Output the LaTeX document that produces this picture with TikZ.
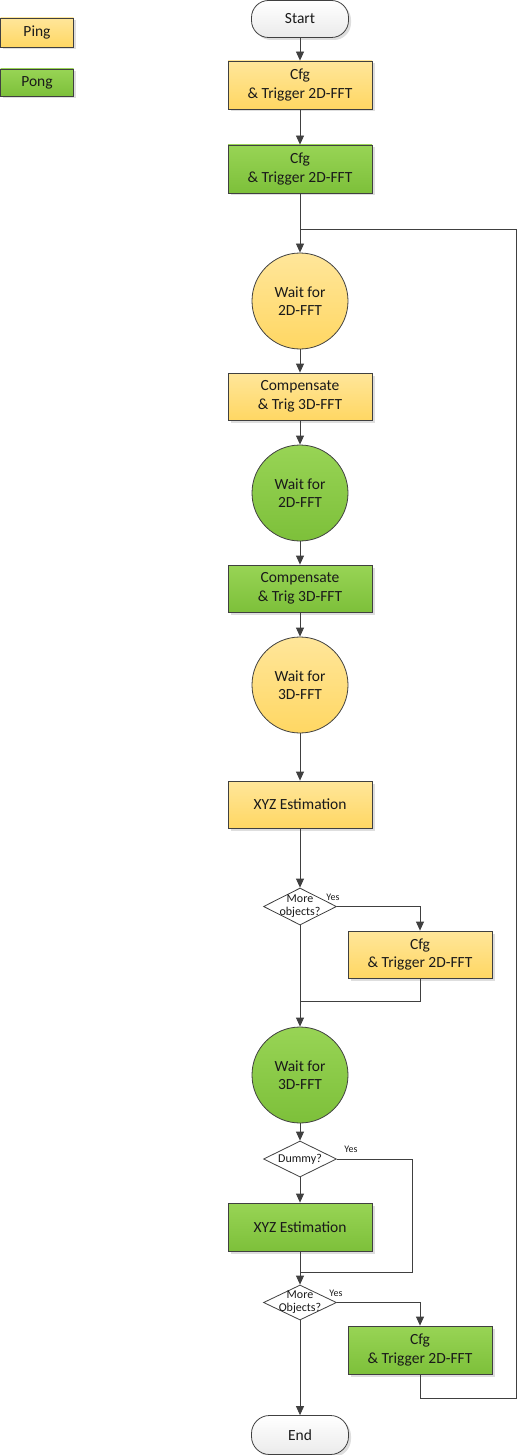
\documentclass[tikz,border=0pt]{standalone}
\usepackage{fontspec}
\setmainfont{Carlito}
\usetikzlibrary{shapes.geometric,arrows.meta,shadows}
\definecolor{lc}{HTML}{404040}
\definecolor{pingT}{HTML}{FFE69A}
\definecolor{pingB}{HTML}{FFD763}
\definecolor{pongT}{HTML}{98D455}
\definecolor{pongB}{HTML}{7DC03A}
\definecolor{txt}{HTML}{1A1A1A}
\begin{document}
\begin{tikzpicture}[x=1pt,y=-1pt,
  shad/.style={drop shadow={shadow xshift=2.5pt,shadow yshift=-2.5pt,fill=black!13,opacity=1}},
  base/.style={draw=lc,line width=0.8pt,inner sep=0pt,text=txt,align=center,
    font=\fontsize{15.5}{18.5}\selectfont},
  pingbox/.style={base,shad,rectangle,top color=pingT,bottom color=pingB,minimum width=144pt,minimum height=48pt},
  pongbox/.style={base,shad,rectangle,top color=pongT,bottom color=pongB,minimum width=144pt,minimum height=48pt},
  pingcirc/.style={base,circle,top color=pingT,bottom color=pingB,minimum size=96pt},
  pongcirc/.style={base,circle,top color=pongT,bottom color=pongB,minimum size=96pt},
  term/.style={base,shad,rectangle,rounded corners=17pt,top color=white,bottom color=black!8,minimum width=97pt,minimum height=37pt},
  dia/.style={draw=lc,line width=0.8pt,diamond,fill=white,inner sep=0pt,minimum width=73pt,minimum height=37pt},
  diatext/.style={text=txt,align=center,inner sep=0pt,font=\fontsize{12}{13.5}\selectfont},
  yes/.style={text=txt,inner sep=0pt,font=\fontsize{10}{12}\selectfont},
  ln/.style={draw=lc,line width=0.8pt},
  arr/.style={ln,-{Triangle[length=9pt,width=8pt]}}
]
\useasboundingbox (0,0) rectangle (518,1455);

% legend
\node[pingbox,minimum width=73pt,minimum height=29pt] (lping) at (37,32.5) {Ping};
\node[pongbox,minimum width=73pt,minimum height=27pt] (lpong) at (37,82.5) {Pong};

% main flow
\node[term] (start) at (300,19) {Start};
\node[pingbox] (b1) at (300,85) {Cfg\\ \& Trigger 2D-FFT};
\node[pongbox] (b2) at (300,169) {Cfg\\ \& Trigger 2D-FFT};
\node[pingcirc] (c1) at (300,301) {Wait for\\2D-FFT};
\node[pingbox,minimum height=47pt] (comp1) at (300,396.5) {Compensate\\\& Trig 3D-FFT};
\node[pongcirc] (c2) at (300,493) {Wait for\\2D-FFT};
\node[pongbox,minimum height=47pt] (comp2) at (300,588.5) {Compensate\\\& Trig 3D-FFT};
\node[pingcirc] (c3) at (300,685) {Wait for\\3D-FFT};
\node[pingbox,minimum height=47pt] (xyz1) at (300,804.5) {XYZ Estimation};
\node[dia] (d1) at (300,906.5) {};
\node[diatext] (d1t) at (300,906) {More\\objects?};
\node[pingbox,minimum height=47pt] (cfg3) at (420,954.5) {Cfg\\ \& Trigger 2D-FFT};
\node[pongcirc] (c4) at (300,1075) {Wait for\\3D-FFT};
\node[dia,minimum height=36pt] (d2) at (300,1159) {};
\node[diatext] (d2t) at (300,1159) {Dummy?};
\node[pongbox] (xyz2) at (300,1227) {XYZ Estimation};
\node[dia,minimum height=35pt] (d3) at (300,1302.5) {};
\node[diatext] (d3t) at (300,1302) {More\\Objects?};
\node[pongbox] (cfg4) at (420,1350) {Cfg\\ \& Trigger 2D-FFT};
\node[term,minimum height=39pt,rounded corners=18pt] (end) at (300,1435) {End};

% coordinates for joins
\coordinate (jtop) at (300,229);
\coordinate (ltop) at (516,229);
\coordinate (lbot) at (516,1398);
\coordinate (j1) at (300,1001);
\coordinate (d2r) at (412,1272);
\coordinate (j2) at (300,1272);

% connectors
\draw[arr] (start) -- (b1);
\draw[arr] (b1) -- (b2);
\draw[arr] (b2) -- (c1);
\draw[arr] (c1) -- (comp1);
\draw[arr] (comp1) -- (c2);
\draw[arr] (c2) -- (comp2);
\draw[arr] (comp2) -- (c3);
\draw[arr] (c3) -- (xyz1);
\draw[arr] (xyz1) -- (d1);
\draw[arr] (d1.east) -| (cfg3.north);
\draw[ln] (cfg3.south) |- (j1);
\draw[arr] (d1) -- (c4);
\draw[arr] (c4) -- (d2);
\draw[ln] (d2.east) -| (d2r) -- (j2);
\draw[arr] (d2) -- (xyz2);
\draw[arr] (xyz2) -- (d3);
\draw[arr] (d3.east) -| (cfg4.north);
\draw[arr] (d3) -- (end);
\draw[ln] (cfg4.south) |- (lbot) -- (ltop) -- (jtop);

% yes labels
\node[yes] (y1) at (333,897) {Yes};
\node[yes] (y2) at (351,1149) {Yes};
\node[yes] (y3) at (336,1293) {Yes};
\end{tikzpicture}
\end{document}
